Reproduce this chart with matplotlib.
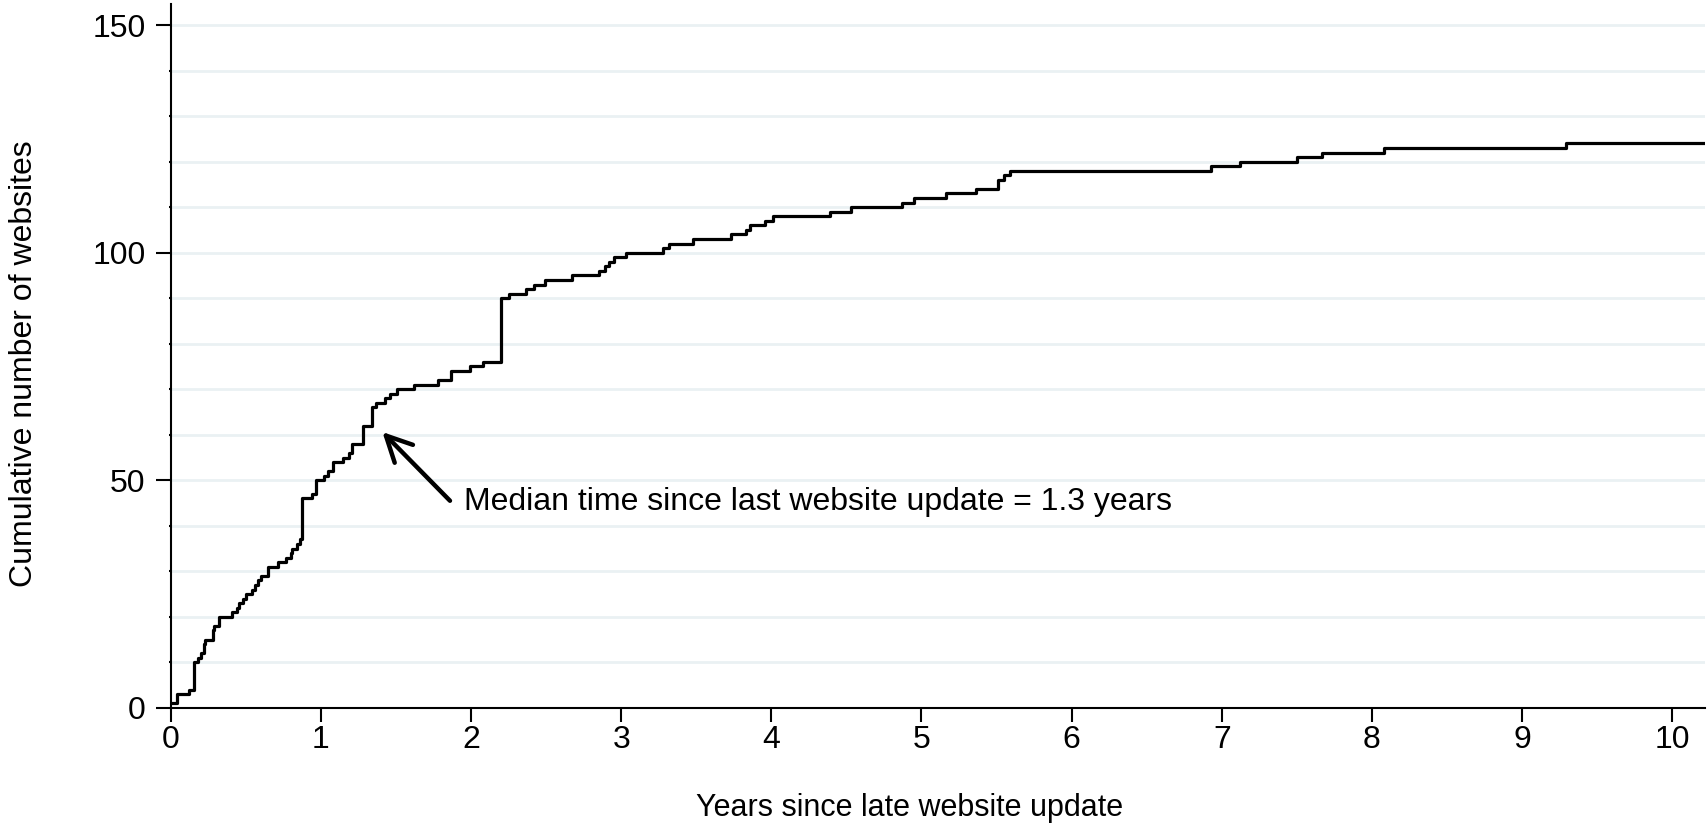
import matplotlib
matplotlib.use('Agg')
import matplotlib.pyplot as plt
import numpy as np

# Время (годы) с момента последнего обновления и накопленное число сайтов
years = [0.01, 0.04, 0.12, 0.155, 0.18, 0.20, 0.22, 0.23, 0.28, 0.29, 0.32, 0.41, 0.44, 0.455,
         0.48, 0.50, 0.54, 0.56, 0.58, 0.60, 0.65, 0.715, 0.77, 0.80, 0.81, 0.84, 0.86, 0.875,
         0.94, 0.97, 1.02, 1.05, 1.08, 1.15, 1.19, 1.21, 1.28, 1.34, 1.37, 1.43, 1.46, 1.51,
         1.62, 1.78, 1.87, 1.99, 2.08, 2.20, 2.25, 2.365, 2.42, 2.49, 2.67, 2.85, 2.89, 2.92,
         2.95, 3.03, 3.28, 3.32, 3.48, 3.73, 3.83, 3.86, 3.96, 4.01, 4.39, 4.53, 4.87, 4.95,
         5.16, 5.36, 5.51, 5.55, 5.59, 6.93, 7.12, 7.50, 7.67, 8.08, 9.29]
websites = [1, 3, 4, 10, 11, 12, 14, 15, 17, 18, 20, 21, 22, 23,
            24, 25, 26, 27, 28, 29, 31, 32, 33, 34, 35, 36, 37, 46,
            47, 50, 51, 52, 54, 55, 56, 58, 62, 66, 67, 68, 69, 70,
            71, 72, 74, 75, 76, 90, 91, 92, 93, 94, 95, 96, 97, 98,
            99, 100, 101, 102, 103, 104, 105, 106, 107, 108, 109, 110, 111, 112,
            113, 114, 116, 117, 118, 119, 120, 121, 122, 123, 124]

x_ticks = list(range(0, 11))
y_ticks = [0, 50, 100, 150]
x_max = 10.22
y_max = 154.6

plt.rcParams['font.family'] = ['Liberation Sans', 'DejaVu Sans']
plt.rcParams['font.size'] = 23

fig = plt.figure(figsize=(17.07, 8.26), dpi=100)
ax = fig.add_axes([0.1, 0.143, 0.899, 0.852])

# линии сетки каждые 10 сайтов
for g in range(10, 151, 10):
    ax.axhline(g, color='#eaf1f3', lw=2, zorder=0)

# ступенчатая кривая, продлённая до края оси
xs = np.append(years, x_max)
ys = np.append(websites, websites[-1])
ax.step(xs, ys, where='post', color='black', lw=2.3, zorder=3)

ax.set_xlim(0, x_max)
ax.set_ylim(0, y_max)
ax.set_xticks(x_ticks)
ax.set_yticks(y_ticks)
ax.set_yticks(range(10, 151, 10), minor=True)
ax.tick_params(axis='x', which='major', length=10, width=1.5, pad=2, labelsize=23)
ax.tick_params(axis='y', which='major', length=11, width=1.5, pad=7, labelsize=23)
ax.tick_params(axis='y', which='minor', length=1.5, width=1.5)

for side in ['top', 'right']:
    ax.spines[side].set_visible(False)
for side in ['left', 'bottom']:
    ax.spines[side].set_linewidth(1.5)

fig.text(0.014, 0.56, 'Cumulative number of websites', rotation=90, ha='center', va='center', fontsize=23)
fig.text(0.533, 0.022, 'Years since late website update', ha='center', va='center', fontsize=22)

# стрелка к медиане и подпись
ax.annotate('', xy=(1.41, 60.6), xytext=(1.86, 45.5),
            arrowprops=dict(arrowstyle='->,head_length=0.8,head_width=0.4', lw=3.2, color='black',
                            shrinkA=0, shrinkB=0))
ax.text(1.95, 45.3, 'Median time since last website update = 1.3 years', va='center', ha='left', fontsize=23)

plt.savefig('out.png', dpi=100)
